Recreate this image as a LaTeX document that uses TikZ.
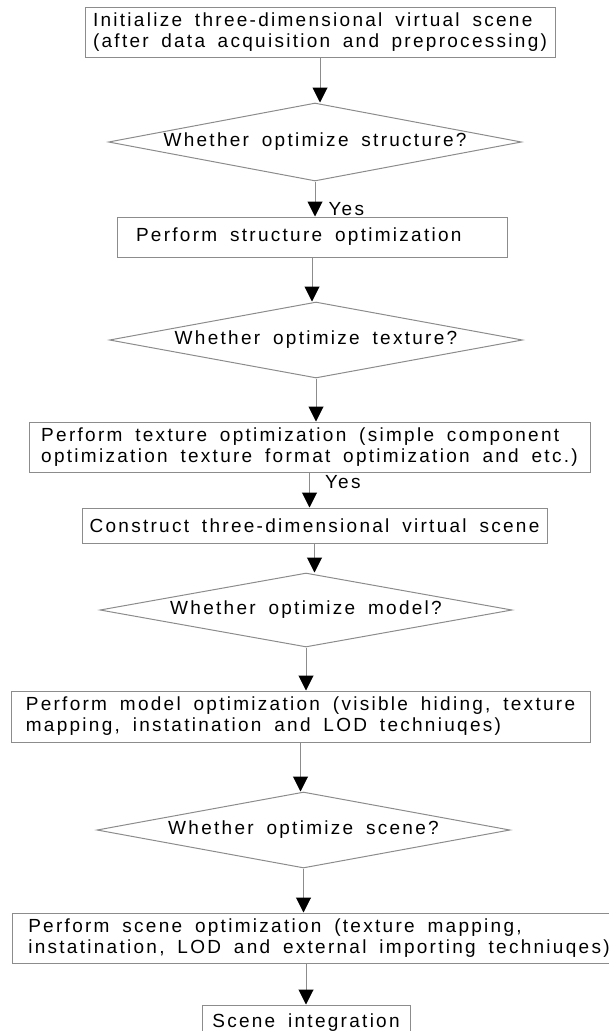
\documentclass[tikz,border=0pt]{standalone}
\usepackage{fontspec}
\setmainfont{Liberation Sans}[LetterSpace=12, WordSpace=1.7]
\usetikzlibrary{shapes.geometric,arrows.meta}

\definecolor{linegray}{RGB}{140,140,140}
\newcommand{\flowfont}{\fontsize{19}{21}\selectfont}

\tikzset{
  box/.style={draw=linegray, line width=1pt, text=black, align=left, inner xsep=0pt, inner ysep=0pt, font=\flowfont},
  padbox/.style={box, align=flush left},
  decide/.style={diamond, draw=linegray, line width=1pt, aspect=5.3, inner sep=0pt, text=black, font=\flowfont, minimum width=413pt, minimum height=77pt},
  arr/.style={draw=linegray, line width=1pt, -{Triangle[width=15pt,length=15pt,color=black]}},
  yes/.style={font=\flowfont, anchor=west, inner sep=0pt, text=black}
}

\begin{document}
\begin{tikzpicture}[x=1pt, y=-1pt]
\useasboundingbox (0,0) rectangle (608,1031);
% steps and questions, top to bottom
\node[padbox, text width=454pt, inner xsep=8pt, minimum height=50pt] (init) at (320,32) {Initialize three-dimensional virtual scene\\(after data acquisition and preprocessing)};
\node[decide, minimum height=78pt] (qstruct) at (315,142) {Whether optimize structure?};
\node[padbox, text width=352pt, inner xsep=19pt, minimum height=40pt] (dostruct) at (312,237) {Perform structure optimization};
\node[decide, minimum height=76pt] (qtex) at (316,340) {Whether optimize texture?};
\node[box, minimum width=561pt, minimum height=50pt] (dotex) at (309.5,447) {Perform texture optimization (simple component\\optimization texture format optimization and etc.)};
\node[box, minimum width=465pt, minimum height=35pt] (build) at (314.5,525.5) {Construct three-dimensional virtual scene};
\node[decide, minimum width=412pt, minimum height=74pt] (qmodel) at (306,610) {Whether optimize model?};
\node[box, minimum width=579pt, minimum height=51pt] (domodel) at (300.5,716.5) {Perform model optimization (visible hiding, texture\\mapping, instatination and LOD techniuqes)};
\node[decide, minimum height=76pt] (qscene) at (303.5,830) {Whether optimize scene?};
\node[box, minimum width=614pt, minimum height=50pt] (doscene) at (319,938) {Perform scene optimization (texture mapping,\\instatination, LOD and external importing techniuqes)};
\node[box, minimum width=208pt, minimum height=36pt] (merge) at (306,1023) {Scene integration};

% connectors
\draw[arr] (init.south) -- (init.south |- qstruct.north);
\draw[arr] (qstruct.south) -- node[yes, pos=0.8, xshift=13pt] {Yes} (qstruct.south |- dostruct.north);
\draw[arr] (dostruct.south) -- (dostruct.south |- qtex.north);
\draw[arr] (qtex.south) -- (qtex.south |- dotex.north);
\draw[arr] (dotex.south) -- node[yes, pos=0.28, xshift=15pt] {Yes} (dotex.south |- build.north);
\draw[arr] (build.south) -- (build.south |- qmodel.north);
\draw[arr] (qmodel.south) -- (qmodel.south |- domodel.north);
\draw[arr] (domodel.south) -- (domodel.south |- qscene.north);
\draw[arr] (qscene.south) -- (qscene.south |- doscene.north);
\draw[arr] (merge.north |- doscene.south) -- (merge.north);
\end{tikzpicture}
\end{document}
